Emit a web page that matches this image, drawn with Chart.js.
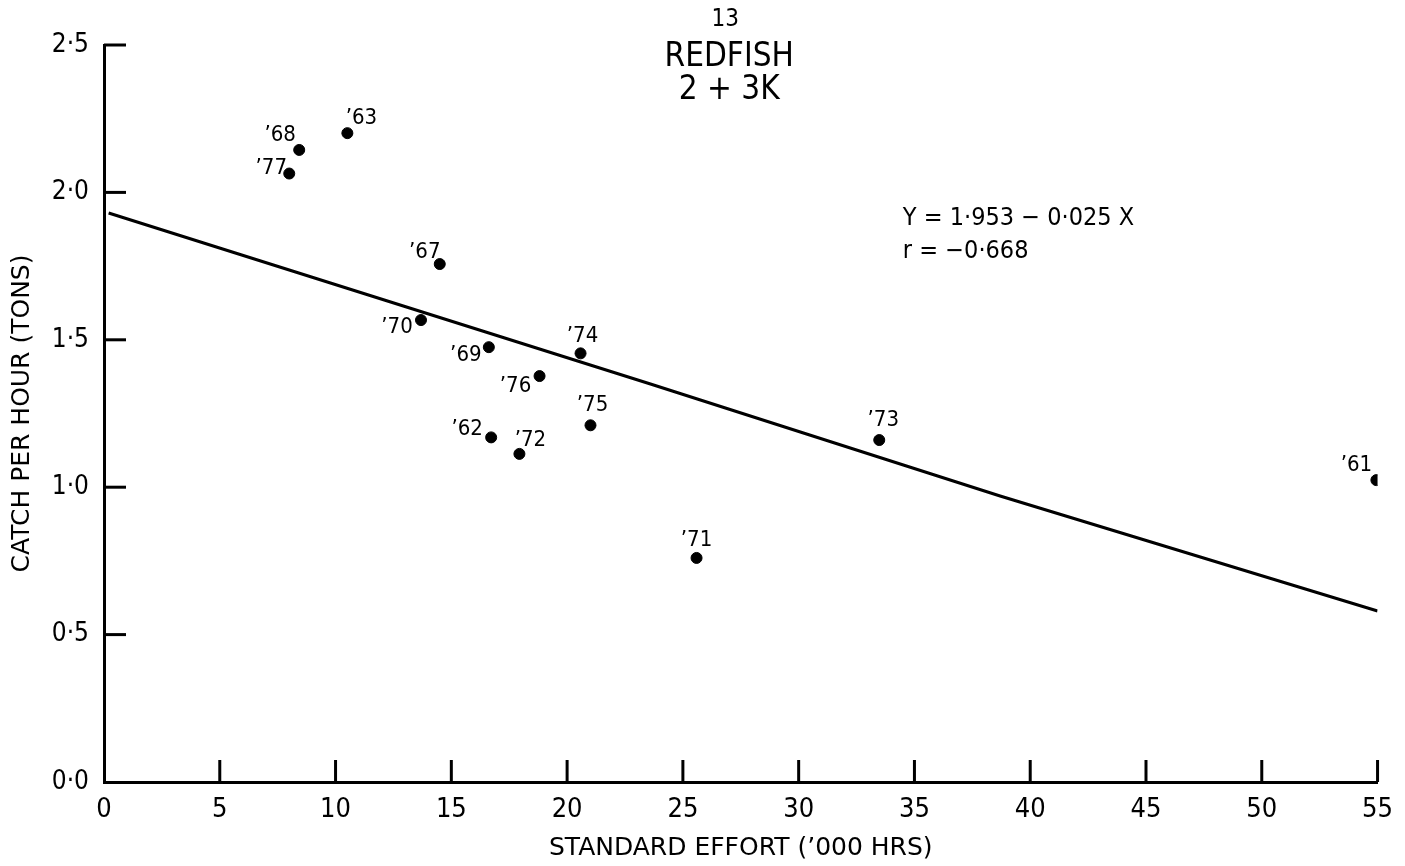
<!DOCTYPE html>
<html>
<head>
<meta charset="utf-8">
<title>Redfish 2+3K</title>
<script src="https://cdn.jsdelivr.net/npm/chart.js@4/dist/chart.umd.min.js"></script>
<style>
html, body { margin: 0; padding: 0; background: #fff; }
canvas { display: block; }
</style>
</head>
<body>
<canvas id="chart" width="1405" height="866"></canvas>
<script>
var yearLabels = ['’68', '’63', '’77', '’67', '’70', '’69', '’74', '’76', '’75', '’62', '’72', '’73', '’71', '’61'];
var effort     = [8.43, 10.51, 8.00, 14.50, 13.69, 16.62, 20.58, 18.81, 21.01, 16.72, 17.94, 33.48, 25.59, 54.95];
var catchRate  = [2.144, 2.201, 2.064, 1.757, 1.567, 1.475, 1.454, 1.377, 1.210, 1.169, 1.113, 1.160, 0.760, 1.024];

// fitted line as drawn on the sheet
var fitEffort = [0.2, 23.6, 38.7, 55];
var fitCatch  = [1.93, 1.35, 0.97, 0.58];

var titleLines = ['13', 'REDFISH', '2 + 3K'];
var equationLines = ['Y = 1·953 − 0·025 X', 'r = −0·668'];
var xTitle = 'STANDARD EFFORT (’000 HRS)';
var yTitle = 'CATCH PER HOUR (TONS)';

var FONT = '"DejaVu Sans Condensed", "DejaVu Sans", sans-serif';
var WIDE = '"DejaVu Sans", sans-serif';

// where each year label sits relative to its dot (px)
var labelShift = {
    '’68': [-19, -15], '’63': [14, -15], '’77': [-18, -5], '’67': [-15, -12],
    '’70': [-24, 7], '’69': [-23, 8], '’74': [2, -17], '’76': [-24, 10],
    '’75': [2, -20], '’62': [-24, -8], '’72': [11, -14], '’73': [4, -20],
    '’71': [0, -18], '’61': [-20, -15]
};

var points = effort.map(function(x, i) { return {x: x, y: catchRate[i]}; });
var fitPoints = fitEffort.map(function(x, i) { return {x: x, y: fitCatch[i]}; });

var inwardTicks = {
    id: 'inwardTicks',
    afterDatasetsDraw: function(chart) {
        var ctx = chart.ctx, area = chart.chartArea,
            sx = chart.scales.x, sy = chart.scales.y;
        ctx.save();
        ctx.strokeStyle = '#000';
        ctx.lineWidth = 3;
        sx.ticks.forEach(function(t) {
            if (t.value === 0) return;
            var px = sx.getPixelForValue(t.value);
            ctx.beginPath();
            ctx.moveTo(px, area.bottom);
            ctx.lineTo(px, area.bottom - 22);
            ctx.stroke();
        });
        sy.ticks.forEach(function(t) {
            if (t.value === 0) return;
            var py = sy.getPixelForValue(t.value);
            ctx.beginPath();
            ctx.moveTo(area.left, py);
            ctx.lineTo(area.left + 22, py);
            ctx.stroke();
        });
        ctx.restore();
    }
};

var textLayer = {
    id: 'textLayer',
    afterDraw: function(chart) {
        var ctx = chart.ctx, sx = chart.scales.x, sy = chart.scales.y;
        ctx.save();
        ctx.fillStyle = '#000';
        ctx.textBaseline = 'middle';

        // year labels
        ctx.textAlign = 'center';
        ctx.font = '22px ' + FONT;
        chart.getDatasetMeta(0).data.forEach(function(el, i) {
            var s = labelShift[yearLabels[i]] || [0, -16];
            ctx.fillText(yearLabels[i], el.x + s[0], el.y + s[1]);
        });

        // heading
        var cx = sx.getPixelForValue(27);
        var top = sy.getPixelForValue(2.5);
        ctx.font = '24px ' + FONT;
        ctx.fillText(titleLines[0], cx - 4, top - 25);
        ctx.font = '33px ' + FONT;
        ctx.fillText(titleLines[1], cx, top + 12);
        ctx.fillText(titleLines[2], cx, top + 45);

        // regression equation
        ctx.textAlign = 'left';
        ctx.font = '25px ' + FONT;
        ctx.fillText(equationLines[0], sx.getPixelForValue(34.5), sy.getPixelForValue(1.913));
        ctx.fillText(equationLines[1], sx.getPixelForValue(34.5), sy.getPixelForValue(1.798));
        ctx.restore();
    }
};

var chart = new Chart(document.getElementById('chart'), {
    type: 'scatter',
    data: {
        datasets: [{
            label: 'Catch per hour',
            data: points,
            backgroundColor: '#000',
            borderColor: '#000',
            pointRadius: 5.5,
            pointHoverRadius: 5.5
        }, {
            type: 'line',
            label: 'Y = 1.953 - 0.025X',
            data: fitPoints,
            borderColor: '#000',
            borderWidth: 3,
            pointRadius: 0,
            fill: false,
            tension: 0
        }]
    },
    options: {
        responsive: false,
        animation: false,
        layout: { padding: { top: 45, right: 27, left: 0, bottom: 0 } },
        plugins: {
            legend: { display: false },
            tooltip: { enabled: false }
        },
        scales: {
            x: {
                type: 'linear',
                min: 0,
                max: 55,
                afterFit: function(s) { s.height = 84; },
                grid: { display: false, drawTicks: false },
                border: { display: true, color: '#000', width: 3 },
                ticks: {
                    stepSize: 5,
                    padding: 12,
                    color: '#000',
                    font: { family: FONT, size: 27 }
                },
                title: {
                    display: true,
                    text: xTitle,
                    color: '#000',
                    font: { family: WIDE, size: 25 },
                    padding: { top: 0, bottom: 3 }
                }
            },
            y: {
                type: 'linear',
                min: 0,
                max: 2.5,
                afterFit: function(s) { s.width = 104; },
                grid: { display: false, drawTicks: false },
                border: { display: true, color: '#000', width: 3 },
                ticks: {
                    stepSize: 0.5,
                    padding: 15,
                    color: '#000',
                    font: { family: FONT, size: 26 },
                    callback: function(v) { return v.toFixed(1).replace('.', '·'); }
                },
                title: {
                    display: true,
                    text: yTitle,
                    color: '#000',
                    font: { family: WIDE, size: 25 },
                    padding: { top: 7, bottom: 0 }
                }
            }
        }
    },
    plugins: [inwardTicks, textLayer]
});
</script>
</body>
</html>
